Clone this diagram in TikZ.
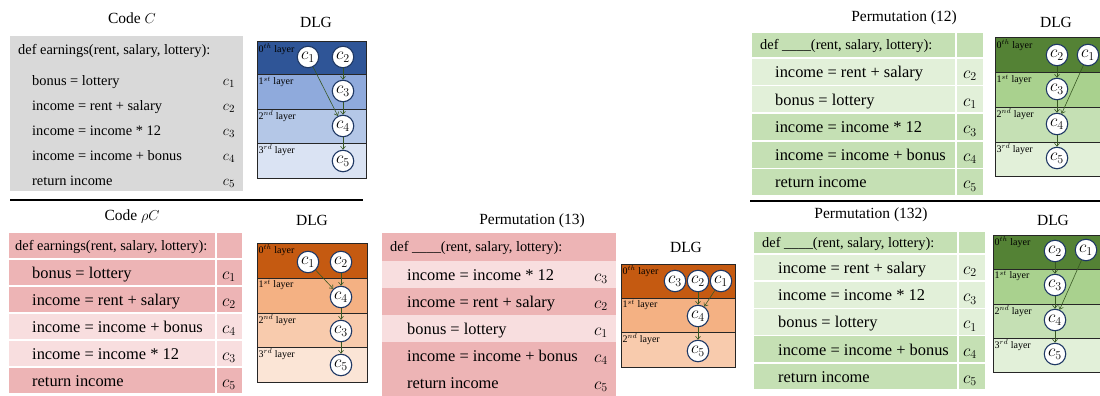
\documentclass[tikz,border=0pt]{standalone}
\usepackage{fontspec}
\setmainfont{Liberation Serif}
\usepackage{tikz}
\usetikzlibrary{arrows.meta}
\definecolor{codegray}{RGB}{217,217,217}
\definecolor{blueA}{RGB}{47,85,151}
\definecolor{blueB}{RGB}{143,170,220}
\definecolor{blueC}{RGB}{180,199,231}
\definecolor{blueD}{RGB}{218,227,243}
\definecolor{orgA}{RGB}{197,90,17}
\definecolor{orgB}{RGB}{244,177,131}
\definecolor{orgC}{RGB}{248,203,173}
\definecolor{orgD}{RGB}{251,229,214}
\definecolor{pinkd}{RGB}{237,180,181}
\definecolor{pinkl}{RGB}{248,222,223}
\definecolor{grnA}{RGB}{84,130,53}
\definecolor{grnB}{RGB}{169,209,142}
\definecolor{grnC}{RGB}{197,224,180}
\definecolor{grnD}{RGB}{226,240,217}
\definecolor{depgreen}{RGB}{56,87,35}
\definecolor{circline}{RGB}{31,56,100}

\tikzset{
  ttl/.style={font=\fontsize{15.5}{18}\selectfont},
  deftxt/.style={anchor=base west, inner sep=0pt, font=\fontsize{14.4}{16}\selectfont},
  codesm/.style={anchor=base west, inner sep=0pt, font=\fontsize{14.4}{16}\selectfont},
  codetxt/.style={anchor=base west, inner sep=0pt, font=\fontsize{16.4}{18}\selectfont},
  idxsm/.style={anchor=base, inner sep=0pt, font=\fontsize{15}{16}\selectfont},
  idx/.style={anchor=base, inner sep=0pt, font=\fontsize{16.5}{18}\selectfont},
  layer/.style={anchor=north west, inner sep=1.5pt, font=\fontsize{10}{11}\selectfont},
  stmt/.style={circle, draw=circline, fill=white, line width=1.1pt, minimum size=21.5pt,
    inner sep=0pt, font=\fontsize{17}{18}\selectfont},
  dep/.style={-{Straight Barb[length=3pt,width=5pt]}, depgreen, line width=0.6pt},
  band/.style={draw=black!85, line width=1pt},
  rowline/.style={draw=white, line width=1.5pt}
}

\begin{document}
\begin{tikzpicture}[x=1pt, y=-1pt]
  \useasboundingbox (0,0) rectangle (1100,396);
  \clip (0,0) rectangle (1100,396);

  % Code C
  \node[ttl] (tA) at (132,18) {Code $C$};
  \fill[codegray] (10,36) rectangle (243,191);
  \node[deftxt] (a0) at (18,55) {def earnings(rent, salary, lottery):};
  \foreach \t/\c [count=\i] in {bonus = lottery/1, income = rent + salary/2,
      income = income * 12/3, income = income + bonus/4, return income/5} {
    \node[codesm] (a\i) at (32,{60+25*\i}) {\t};
    \node[idxsm] (ac\i) at (229,{60+25*\i}) {$c_{\c}$};
  }

  % DLG of C
  \node[ttl] (gA) at (316,22) {DLG};
  \fill[blueA] (257,42) rectangle (366,75);
  \fill[blueB] (257,75) rectangle (366,109);
  \fill[blueC] (257,109) rectangle (366,143);
  \fill[blueD] (257,143) rectangle (366,178);
  \draw[band] (257,42) rectangle (366,178);
  \draw[band] (257,75) -- (366,75) (257,109) -- (366,109) (257,143) -- (366,143);
  \node[layer] (al0) at (257,42) {0$^{th}$ layer};
  \node[layer] (al1) at (257,75) {1$^{st}$ layer};
  \node[layer] (al2) at (257,109) {2$^{nd}$ layer};
  \node[layer] (al3) at (257,143) {3$^{rd}$ layer};
  \node[stmt] (an1) at (308,57) {$c_1$};
  \node[stmt] (an2) at (343,57) {$c_2$};
  \node[stmt] (an3) at (343,91) {$c_3$};
  \node[stmt] (an4) at (343,126) {$c_4$};
  \node[stmt] (an5) at (343,161) {$c_5$};
  \draw[dep] (an1) -- (an4);
  \draw[dep] (an2) -- (an3);
  \draw[dep] (an3) -- (an4);
  \draw[dep] (an4) -- (an5);

  % separators
  \draw[line width=2pt] (10,200) -- (363,200);
  \draw[line width=2pt] (750,201) -- (1100,201);

  % Code rho C
  \node[ttl] (tB) at (132,217) {Code $\rho C$};
  \filldraw[fill=pinkd, rowline] (8,232) rectangle (243,259);
  \node[deftxt] (b0) at (15,250) {def earnings(rent, salary, lottery):};
  \foreach \t/\c/\col [count=\i] in {bonus = lottery/1/pinkd, income = rent + salary/2/pinkd,
      income = income + bonus/4/pinkl, income = income * 12/3/pinkl, return income/5/pinkd} {
    \filldraw[fill=\col, rowline] (8,{232+27*\i}) rectangle (243,{259+27*\i});
    \node[codetxt] (b\i) at (32,{251+27*\i}) {\t};
    \node[idx] (bc\i) at (229,{252+27*\i}) {$c_{\c}$};
  }
  \draw[rowline] (216,232) -- (216,394);

  % DLG of rho C
  \node[ttl] (gB) at (312,220) {DLG};
  \fill[orgA] (257,243) rectangle (367,278);
  \fill[orgB] (257,278) rectangle (367,313);
  \fill[orgC] (257,313) rectangle (367,347);
  \fill[orgD] (257,347) rectangle (367,382);
  \draw[band] (257,243) rectangle (367,382);
  \draw[band] (257,278) -- (367,278) (257,313) -- (367,313) (257,347) -- (367,347);
  \node[layer] (bl0) at (257,243) {0$^{th}$ layer};
  \node[layer] (bl1) at (257,278) {1$^{st}$ layer};
  \node[layer] (bl2) at (257,313) {2$^{nd}$ layer};
  \node[layer] (bl3) at (257,347) {3$^{rd}$ layer};
  \node[stmt] (bn1) at (308,262) {$c_1$};
  \node[stmt] (bn2) at (341,262) {$c_2$};
  \node[stmt] (bn4) at (341,297) {$c_4$};
  \node[stmt] (bn3) at (341,331) {$c_3$};
  \node[stmt] (bn5) at (341,365) {$c_5$};
  \draw[dep] (bn1) -- (bn4);
  \draw[dep] (bn2) -- (bn4);
  \draw[dep] (bn4) -- (bn3);
  \draw[dep] (bn3) -- (bn5);

  % Permutation (13)
  \node[ttl] (tC) at (532,221) {Permutation (13)};
  \fill[pinkd] (382,233) rectangle (616,261);
  \node[deftxt] (c0) at (390,251) {def \_\_\_\_(rent, salary, lottery):};
  \foreach \t/\c/\col [count=\i] in {income = income * 12/3/pinkl, income = rent + salary/2/pinkd,
      bonus = lottery/1/pinkl, income = income + bonus/4/pinkd, return income/5/pinkd} {
    \fill[\col] (382,{234+27*\i}) rectangle (616,{261+27*\i});
    \node[codetxt] (c\i) at (407,{253+27*\i}) {\t};
    \node[idx] (cc\i) at (601,{254+27*\i}) {$c_{\c}$};
  }

  % DLG of permutation (13)
  \node[ttl] (gC) at (686,247) {DLG};
  \fill[orgA] (621,264) rectangle (735,298);
  \fill[orgB] (621,298) rectangle (735,332);
  \fill[orgC] (621,332) rectangle (735,367);
  \draw[band] (621,264) rectangle (735,367);
  \draw[band] (621,298) -- (735,298) (621,332) -- (735,332);
  \node[layer] (cl0) at (621,264) {0$^{th}$ layer};
  \node[layer] (cl1) at (621,298) {1$^{st}$ layer};
  \node[layer] (cl2) at (621,332) {2$^{nd}$ layer};
  \node[stmt] (cn3) at (675,281) {$c_3$};
  \node[stmt] (cn2) at (698,281) {$c_2$};
  \node[stmt] (cn1) at (721,281) {$c_1$};
  \node[stmt] (cn4) at (698,316) {$c_4$};
  \node[stmt] (cn5) at (698,351) {$c_5$};
  \draw[dep] (cn2) -- (cn4);
  \draw[dep] (cn1) -- (cn4);
  \draw[dep] (cn4) -- (cn5);

  % Permutation (12)
  \node[ttl] (tD) at (904,18) {Permutation (12)};
  \filldraw[fill=grnC, rowline] (751,32) rectangle (984,58);
  \node[deftxt] (d0) at (760,49.5) {def \_\_\_\_(rent, salary, lottery):};
  \foreach \t/\c/\col [count=\i] in {income = rent + salary/2/grnD, bonus = lottery/1/grnD,
      income = income * 12/3/grnC, income = income + bonus/4/grnC, return income/5/grnC} {
    \filldraw[fill=\col, rowline] (751,{30.4+27.6*\i}) rectangle (984,{58+27.6*\i});
    \node[codetxt] (d\i) at (775,{49.8+27.6*\i}) {\t};
    \node[idx] (dc\i) at (970,{50.8+27.6*\i}) {$c_{\c}$};
  }
  \draw[rowline] (956,32) -- (956,196);

  % DLG of permutation (12)
  \node[ttl] (gD) at (1056,22) {DLG};
  \fill[grnA] (995,38) rectangle (1104,73);
  \fill[grnB] (995,73) rectangle (1104,107);
  \fill[grnC] (995,107) rectangle (1104,142);
  \fill[grnD] (995,142) rectangle (1104,176);
  \draw[band] (995,38) rectangle (1104,176);
  \draw[band] (995,73) -- (1104,73) (995,107) -- (1104,107) (995,142) -- (1104,142);
  \node[layer] (dl0) at (995,38) {0$^{th}$ layer};
  \node[layer] (dl1) at (995,73) {1$^{st}$ layer};
  \node[layer] (dl2) at (995,107) {2$^{nd}$ layer};
  \node[layer] (dl3) at (995,142) {3$^{rd}$ layer};
  \node[stmt] (dn2) at (1057,55) {$c_2$};
  \node[stmt] (dn1) at (1088,55) {$c_1$};
  \node[stmt] (dn3) at (1057,89) {$c_3$};
  \node[stmt] (dn4) at (1057,124) {$c_4$};
  \node[stmt] (dn5) at (1057,158) {$c_5$};
  \draw[dep] (dn2) -- (dn3);
  \draw[dep] (dn3) -- (dn4);
  \draw[dep] (dn1) -- (dn4);
  \draw[dep] (dn4) -- (dn5);

  % Permutation (132)
  \node[ttl] (tE) at (871,215) {Permutation (132)};
  \filldraw[fill=grnC, rowline] (753,231) rectangle (986,254);
  \node[deftxt] (e0) at (762,247) {def \_\_\_\_(rent, salary, lottery):};
  \foreach \t/\c/\col [count=\i] in {income = rent + salary/2/grnD, income = income * 12/3/grnD,
      bonus = lottery/1/grnD, income = income + bonus/4/grnC, return income/5/grnC} {
    \filldraw[fill=\col, rowline] (753,{226.8+27.2*\i}) rectangle (986,{254+27.2*\i});
    \node[codetxt] (e\i) at (778,{246.2+27.2*\i}) {\t};
    \node[idx] (ec\i) at (970,{247.2+27.2*\i}) {$c_{\c}$};
  }
  \draw[rowline] (958,231) -- (958,390);

  % DLG of permutation (132)
  \node[ttl] (gE) at (1053,220) {DLG};
  \fill[grnA] (993,235) rectangle (1104,269);
  \fill[grnB] (993,269) rectangle (1104,304);
  \fill[grnC] (993,304) rectangle (1104,338);
  \fill[grnD] (993,338) rectangle (1104,372);
  \draw[band] (993,235) rectangle (1104,372);
  \draw[band] (993,269) -- (1104,269) (993,304) -- (1104,304) (993,338) -- (1104,338);
  \node[layer] (el0) at (993,235) {0$^{th}$ layer};
  \node[layer] (el1) at (993,269) {1$^{st}$ layer};
  \node[layer] (el2) at (993,304) {2$^{nd}$ layer};
  \node[layer] (el3) at (993,338) {3$^{rd}$ layer};
  \node[stmt] (en2) at (1055,251) {$c_2$};
  \node[stmt] (en1) at (1086,250) {$c_1$};
  \node[stmt] (en3) at (1055,285) {$c_3$};
  \node[stmt] (en4) at (1055,320) {$c_4$};
  \node[stmt] (en5) at (1055,354) {$c_5$};
  \draw[dep] (en2) -- (en3);
  \draw[dep] (en3) -- (en4);
  \draw[dep] (en1) -- (en4);
  \draw[dep] (en4) -- (en5);
\end{tikzpicture}
\end{document}
